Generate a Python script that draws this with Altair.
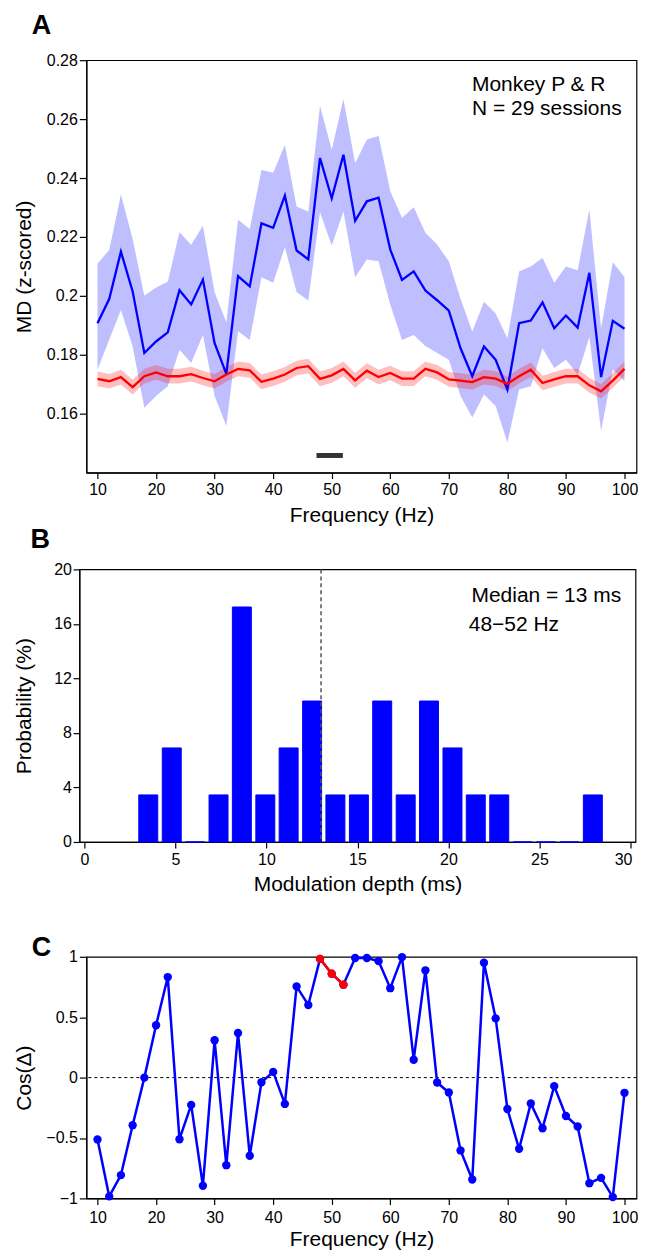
import altair as alt
import pandas as pd

FONT = "Liberation Sans"

# ---------------- Panel A data ----------------
freq_hz = [10, 12, 14, 16, 18, 20, 22, 24, 26, 28, 30, 32, 34, 36, 38, 40, 42, 44, 46, 48,
           50, 52, 54, 56, 58, 60, 62, 64, 66, 68, 70, 72, 74, 76, 78, 80, 82, 84, 86, 88,
           90, 92, 94, 96, 98, 100]

blue_mean = [0.1907, 0.1989, 0.2150, 0.2015, 0.1806, 0.1845, 0.1876, 0.2019, 0.1971, 0.2055,
             0.1839, 0.1735, 0.2067, 0.2032, 0.2246, 0.2231, 0.2340, 0.2154, 0.2124, 0.2468,
             0.2331, 0.2479, 0.2255, 0.2321, 0.2333, 0.2157, 0.2054, 0.2083, 0.2018, 0.1985,
             0.1950, 0.1822, 0.1727, 0.1828, 0.1783, 0.1682, 0.1907, 0.1916, 0.1978, 0.1890,
             0.1933, 0.1892, 0.2078, 0.1724, 0.1915, 0.1888]

blue_upper = [0.2109, 0.2156, 0.2344, 0.2193, 0.2000, 0.2028, 0.2048, 0.2216, 0.2173, 0.2238,
              0.2012, 0.1910, 0.2258, 0.2227, 0.2427, 0.2418, 0.2512, 0.2303, 0.2286, 0.2645,
              0.2496, 0.2668, 0.2450, 0.2531, 0.2543, 0.2355, 0.2265, 0.2301, 0.2214, 0.2174,
              0.2117, 0.1990, 0.1879, 0.1980, 0.1940, 0.1856, 0.2083, 0.2100, 0.2129, 0.2044,
              0.2100, 0.2087, 0.2293, 0.1890, 0.2114, 0.2064]

blue_lower = [0.1750, 0.1851, 0.1952, 0.1828, 0.1620, 0.1660, 0.1693, 0.1817, 0.1772, 0.1867,
              0.1660, 0.1558, 0.1880, 0.1850, 0.2063, 0.2044, 0.2165, 0.2013, 0.1984, 0.2284,
              0.2171, 0.2286, 0.2063, 0.2123, 0.2117, 0.1970, 0.1850, 0.1867, 0.1830, 0.1806,
              0.1783, 0.1660, 0.1587, 0.1665, 0.1626, 0.1502, 0.1682, 0.1693, 0.1822, 0.1755,
              0.1783, 0.1733, 0.1860, 0.1542, 0.1750, 0.1710]

red_mean = [0.1718, 0.1710, 0.1724, 0.1690, 0.1727, 0.1740, 0.1727, 0.1727, 0.1734, 0.1721,
            0.1710, 0.1733, 0.1752, 0.1747, 0.1708, 0.1719, 0.1733, 0.1755, 0.1761, 0.1718,
            0.1730, 0.1752, 0.1713, 0.1746, 0.1724, 0.1738, 0.1719, 0.1719, 0.1752, 0.1740,
            0.1716, 0.1712, 0.1707, 0.1724, 0.1719, 0.1701, 0.1727, 0.1749, 0.1704, 0.1716,
            0.1727, 0.1727, 0.1696, 0.1676, 0.1712, 0.1752]

red_upper = [0.1743, 0.1735, 0.1749, 0.1715, 0.1752, 0.1765, 0.1752, 0.1752, 0.1759, 0.1746,
             0.1735, 0.1758, 0.1777, 0.1772, 0.1733, 0.1744, 0.1758, 0.1780, 0.1786, 0.1743,
             0.1755, 0.1777, 0.1738, 0.1771, 0.1749, 0.1763, 0.1744, 0.1744, 0.1777, 0.1765,
             0.1741, 0.1737, 0.1732, 0.1749, 0.1744, 0.1726, 0.1752, 0.1774, 0.1729, 0.1741,
             0.1752, 0.1752, 0.1721, 0.1701, 0.1737, 0.1777]

red_lower = [0.1693, 0.1685, 0.1699, 0.1665, 0.1702, 0.1715, 0.1702, 0.1702, 0.1709, 0.1696,
             0.1685, 0.1708, 0.1727, 0.1722, 0.1683, 0.1694, 0.1708, 0.1730, 0.1736, 0.1693,
             0.1705, 0.1727, 0.1688, 0.1721, 0.1699, 0.1713, 0.1694, 0.1694, 0.1727, 0.1715,
             0.1691, 0.1687, 0.1682, 0.1699, 0.1694, 0.1676, 0.1702, 0.1724, 0.1679, 0.1691,
             0.1702, 0.1702, 0.1671, 0.1651, 0.1687, 0.1727]

sig_bar_start = [47.4]
sig_bar_end = [51.9]
sig_bar_level = [0.1458]

annotation_A = ["Monkey P & R", "N = 29 sessions"]

# ---------------- Panel B data ----------------
bin_centers_ms = [3.51, 4.80, 6.08, 7.37, 8.65, 9.94, 11.22, 12.51, 13.79, 15.08,
                  16.36, 17.65, 18.93, 20.22, 21.50, 22.79, 24.08, 25.36, 26.65, 27.93]
probability_pct = [3.45, 6.90, 0.0, 3.45, 17.24, 3.45, 6.90, 10.34, 3.45, 3.45,
                   10.34, 3.45, 10.34, 6.90, 3.45, 3.45, 0.0, 0.0, 0.0, 3.45]
median_ms = [13]
annotation_B = ["Median = 13 ms", "48\u221252 Hz"]

# ---------------- Panel C data ----------------
cos_delta = [-0.512, -0.983, -0.807, -0.394, 0.000, 0.433, 0.832, -0.510, -0.226, -0.895,
             0.309, -0.725, 0.369, -0.647, -0.039, 0.047, -0.218, 0.755, 0.601, 0.983,
             0.860, 0.769, 0.990, 0.990, 0.964, 0.740, 0.997, 0.148, 0.888, -0.041,
             -0.123, -0.603, -0.844, 0.951, 0.490, -0.260, -0.589, -0.214, -0.419, -0.071,
             -0.318, -0.405, -0.874, -0.830, -0.989, -0.126]
highlight_freq = [48, 50, 52]

panel_letters = ["A", "B", "C"]

BLUE = "#0000ff"
RED = "#ff0000"
TICK_FS = 16
TITLE_FS = 21
NOTE_FS = 21
LETTER_FS = 27

# ---------------- helpers ----------------
def letter(txt, dx, dy):
    return alt.Chart(pd.DataFrame({"t": [txt]})).mark_text(
        align="left", baseline="alphabetic", fontSize=LETTER_FS, fontWeight="bold",
        font=FONT, color="black"
    ).encode(text="t:N", x=alt.value(dx), y=alt.value(dy))


def note(txt, dx, dy):
    return alt.Chart(pd.DataFrame({"t": [txt]})).mark_text(
        align="left", baseline="middle", fontSize=NOTE_FS, font=FONT, color="black"
    ).encode(text="t:N", x=alt.value(dx), y=alt.value(dy))


def gutter():
    # empty narrow column so every panel is aligned by its outer (left) edge
    return alt.Chart(pd.DataFrame({"s": [0]})).mark_point(opacity=0).encode(
        x=alt.value(0), y=alt.value(0)
    ).properties(width=1, height=1,
                 view=alt.ViewBackground(stroke="transparent", strokeWidth=0))


freq_ticks = [10, 20, 30, 40, 50, 60, 70, 80, 90, 100]
freq_scale = alt.Scale(domain=[8.1, 102.05], nice=False, zero=False)

# ---------------- Panel A ----------------
dfA = pd.DataFrame({
    "freq": freq_hz, "blue_mean": blue_mean, "blue_lower": blue_lower,
    "blue_upper": blue_upper, "red_mean": red_mean, "red_lower": red_lower,
    "red_upper": red_upper,
})

axisA_x = alt.Axis(values=freq_ticks, title="Frequency (Hz)", tickSize=6,
                   labelPadding=3.4, titlePadding=7.0)
axisA_y = alt.Axis(values=[0.16, 0.18, 0.2, 0.22, 0.24, 0.26, 0.28], format="~g",
                   title="MD (z-scored)", tickSize=7, labelPadding=2,
                   titlePadding=11.4, minExtent=0)
scaleA_y = alt.Scale(domain=[0.14, 0.28], nice=False, zero=False)

xA = alt.X("freq:Q", scale=freq_scale, axis=axisA_x)


def yA(field):
    return alt.Y(f"{field}:Q", scale=scaleA_y, axis=axisA_y)


band_blue = alt.Chart(dfA).mark_area(color=BLUE, opacity=0.25).encode(
    x=xA, y=yA("blue_lower"), y2=alt.Y2("blue_upper:Q"))
band_red = alt.Chart(dfA).mark_area(color=RED, opacity=0.25).encode(
    x=xA, y=yA("red_lower"), y2=alt.Y2("red_upper:Q"))
line_blue = alt.Chart(dfA).mark_line(color=BLUE, strokeWidth=2.3).encode(
    x=xA, y=yA("blue_mean"))
line_red = alt.Chart(dfA).mark_line(color=RED, strokeWidth=2.3).encode(
    x=xA, y=yA("red_mean"))

dfSig = pd.DataFrame({"start": sig_bar_start, "end": sig_bar_end, "level": sig_bar_level})
sig_bar = alt.Chart(dfSig).mark_rule(color="#333333", strokeWidth=5).encode(
    x=alt.X("start:Q", scale=freq_scale, axis=axisA_x),
    x2=alt.X2("end:Q"),
    y=alt.Y("level:Q", scale=scaleA_y, axis=axisA_y))

chartA = alt.layer(
    band_blue, band_red, line_blue, line_red, sig_bar,
    note(annotation_A[0], 386.2, 24.4),
    note(annotation_A[1], 386.2, 48.9),
    letter(panel_letters[0], -54.8, -26),
).properties(width=551, height=413)

# ---------------- Panel B ----------------
dfB = pd.DataFrame({"center": bin_centers_ms, "prob": probability_pct})
axisB_x = alt.Axis(values=[0, 5, 10, 15, 20, 25, 30], title="Modulation depth (ms)",
                   tickSize=6, labelPadding=3.8, titlePadding=5.5,
                   labelAlign={"expr": "datum.value == 30 ? 'right' : 'center'"},
                   labelOffset={"expr": "datum.value == 30 ? 1.5 : 0"})
axisB_y = alt.Axis(values=[0, 4, 8, 12, 16, 20], title="Probability (%)", tickSize=6.3,
                   labelPadding=1.7, titlePadding=19.2, minExtent=0)
scaleB_x = alt.Scale(domain=[0, 30], nice=False, zero=False)
scaleB_y = alt.Scale(domain=[0, 20], nice=False)

bars = alt.Chart(dfB).mark_bar(color=BLUE, size=19, stroke=BLUE, strokeWidth=1,
                               orient="vertical").encode(
    x=alt.X("center:Q", scale=scaleB_x, axis=axisB_x),
    y=alt.Y("prob:Q", scale=scaleB_y, axis=axisB_y))

median_rule = alt.Chart(pd.DataFrame({"m": median_ms})).mark_rule(
    color="#555555", strokeDash=[4, 3], strokeWidth=1.5).encode(
    x=alt.X("m:Q", scale=scaleB_x, axis=axisB_x))

spacer = alt.Chart(pd.DataFrame({"s": [0]})).mark_rule(opacity=0, strokeOpacity=0).encode(
    x=alt.value(0), y=alt.value(273), y2=alt.value(365))

chartB = alt.layer(
    bars, median_rule,
    note(annotation_B[0], 392.7, 26.2),
    note(annotation_B[1], 390, 55.9),
    letter(panel_letters[1], -49, -21.8),
    spacer,
).properties(width=557, height=273)

# ---------------- Panel C ----------------
dfC = pd.DataFrame({"freq": freq_hz, "cos": cos_delta})
axisC_x = alt.Axis(values=freq_ticks, title="Frequency (Hz)", tickSize=6,
                   labelPadding=5.5, titlePadding=3.0)
axisC_y = alt.Axis(values=[-1, -0.5, 0, 0.5, 1], format="~g", title="Cos(\u0394)",
                   tickSize=7, labelPadding=2, titlePadding=10.9, minExtent=0)
scaleC_y = alt.Scale(domain=[-1, 1], nice=False)

xC = alt.X("freq:Q", scale=freq_scale, axis=axisC_x)
yC = alt.Y("cos:Q", scale=scaleC_y, axis=axisC_y)

zero_line = alt.Chart(pd.DataFrame({"z": [0]})).mark_rule(
    color="black", strokeDash=[3, 3], strokeWidth=1).encode(
    y=alt.Y("z:Q", scale=scaleC_y, axis=axisC_y))
c_line = alt.Chart(dfC).mark_line(color=BLUE, strokeWidth=2.5).encode(x=xC, y=yC)
c_pts = alt.Chart(dfC).mark_circle(color=BLUE, size=70, opacity=1).encode(x=xC, y=yC)
hi = alt.Chart(dfC).transform_filter(
    alt.FieldOneOfPredicate(field="freq", oneOf=highlight_freq))
c_line_red = hi.mark_line(color=RED, strokeWidth=2.5).encode(x=xC, y=yC)
c_pts_red = hi.mark_circle(color=RED, size=70, opacity=1).encode(x=xC, y=yC)

chartC = alt.layer(
    zero_line, c_line, c_pts, c_line_red, c_pts_red,
    letter(panel_letters[2], -54.8, -1),
).properties(width=551, height=242)

chart = alt.vconcat(
    alt.hconcat(gutter(), chartA, spacing=0),
    alt.hconcat(gutter(), chartB, spacing=0),
    alt.hconcat(gutter(), chartC, spacing=0),
    spacing=-2
).properties(
    padding={"left": -1.5, "top": 2.3, "right": -0.5, "bottom": -1}
).configure_axis(
    labelFont=FONT, titleFont=FONT, labelFontSize=TICK_FS, titleFontSize=TITLE_FS,
    titleFontWeight="normal", labelColor="black", titleColor="black",
    domainColor="black", tickColor="black", grid=False, domainWidth=1.2,
    tickWidth=1.2
).configure_view(stroke="black", strokeWidth=1.2)

chart.save("out.html", embed_options={"renderer": "svg", "actions": False})
